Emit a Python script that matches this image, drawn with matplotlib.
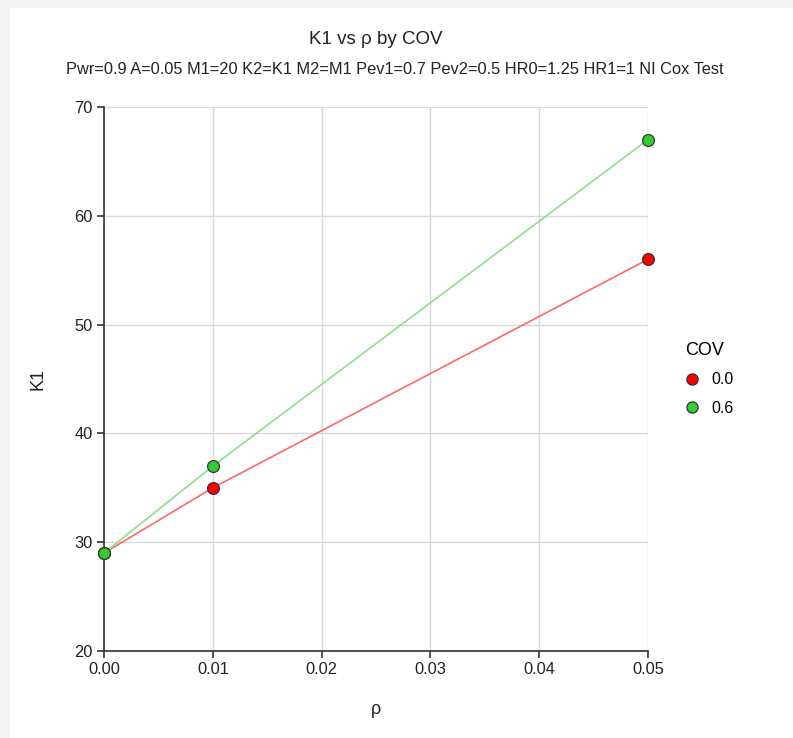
import numpy as np
import matplotlib.pyplot as plt
from matplotlib.patches import Rectangle

plt.rcParams['font.family'] = ['Liberation Sans', 'DejaVu Sans']

rho = [0.00, 0.01, 0.05]
k1_cov0 = [29, 35, 56]
k1_cov6 = [29, 37, 67]
cov_labels = ["0.0", "0.6"]
x_ticks = [0.00, 0.01, 0.02, 0.03, 0.04, 0.05]
y_ticks = [20, 30, 40, 50, 60, 70]

W, H = 793, 738
fig = plt.figure(figsize=(W / 100, H / 100), dpi=100, facecolor='#f4f4f4')
# white panel
fig.patches.append(Rectangle((10 / W, 0), 1 - 10 / W, 1 - 8 / H,
                             transform=fig.transFigure, facecolor='white',
                             edgecolor='none', zorder=-10))

ax = fig.add_axes([104 / W, 1 - 651 / H, (648 - 104) / W, (651 - 107) / H])
ax.set_zorder(1)
ax.set_facecolor('white')

series = [(k1_cov0, '#ff0000', '#ff6666'), (k1_cov6, '#33cc33', '#88e088')]
handles = []
for vals, mcol, lcol in series:
    ax.plot(rho, vals, color=lcol, linewidth=1.2, zorder=3, clip_on=False)
    h, = ax.plot(rho, vals, linestyle='none', marker='o', markersize=8.5,
                 markerfacecolor=mcol, markeredgecolor='#333333',
                 markeredgewidth=0.9, zorder=4, clip_on=False)
    handles.append(h)

ax.set_xlim(0, 0.05)
ax.set_ylim(20, 70)
ax.set_xticks(x_ticks)
ax.set_xticklabels([f"{v:.2f}" for v in x_ticks])
ax.set_yticks(y_ticks)
ax.grid(True, color='#d9d9d9', linewidth=1)
ax.set_axisbelow(True)
for s in ['top', 'right']:
    ax.spines[s].set_visible(False)
for s in ['left', 'bottom']:
    ax.spines[s].set_color('#333333')
    ax.spines[s].set_linewidth(1.2)
ax.tick_params(direction='out', length=5, width=1.2, color='#333333',
               labelsize=11.8, labelcolor='#222222', pad=3)

ax.set_xlabel("ρ", fontsize=13, labelpad=17, color='#222222')
ax.set_ylabel("K1", fontsize=13, labelpad=20, color='#222222')

fig.text(376 / W, 1 - 40 / H, "K1 vs ρ by COV", ha='center', va='center',
         fontsize=13.5, color='#222222')
fig.text(395 / W, 1 - 70 / H,
         "Pwr=0.9 A=0.05 M1=20 K2=K1 M2=M1 Pev1=0.7 Pev2=0.5 HR0=1.25 HR1=1 NI Cox Test",
         ha='center', va='center', fontsize=11.8, color='#222222')

leg = fig.legend(handles, cov_labels, title="COV", loc='center',
                 bbox_to_anchor=(705 / W, 1 - 379 / H), frameon=False,
                 fontsize=11.5, title_fontsize=13, handletextpad=0.2,
                 labelspacing=0.85, markerscale=0.95)

fig.savefig("out.png", dpi=100, facecolor=fig.get_facecolor())
